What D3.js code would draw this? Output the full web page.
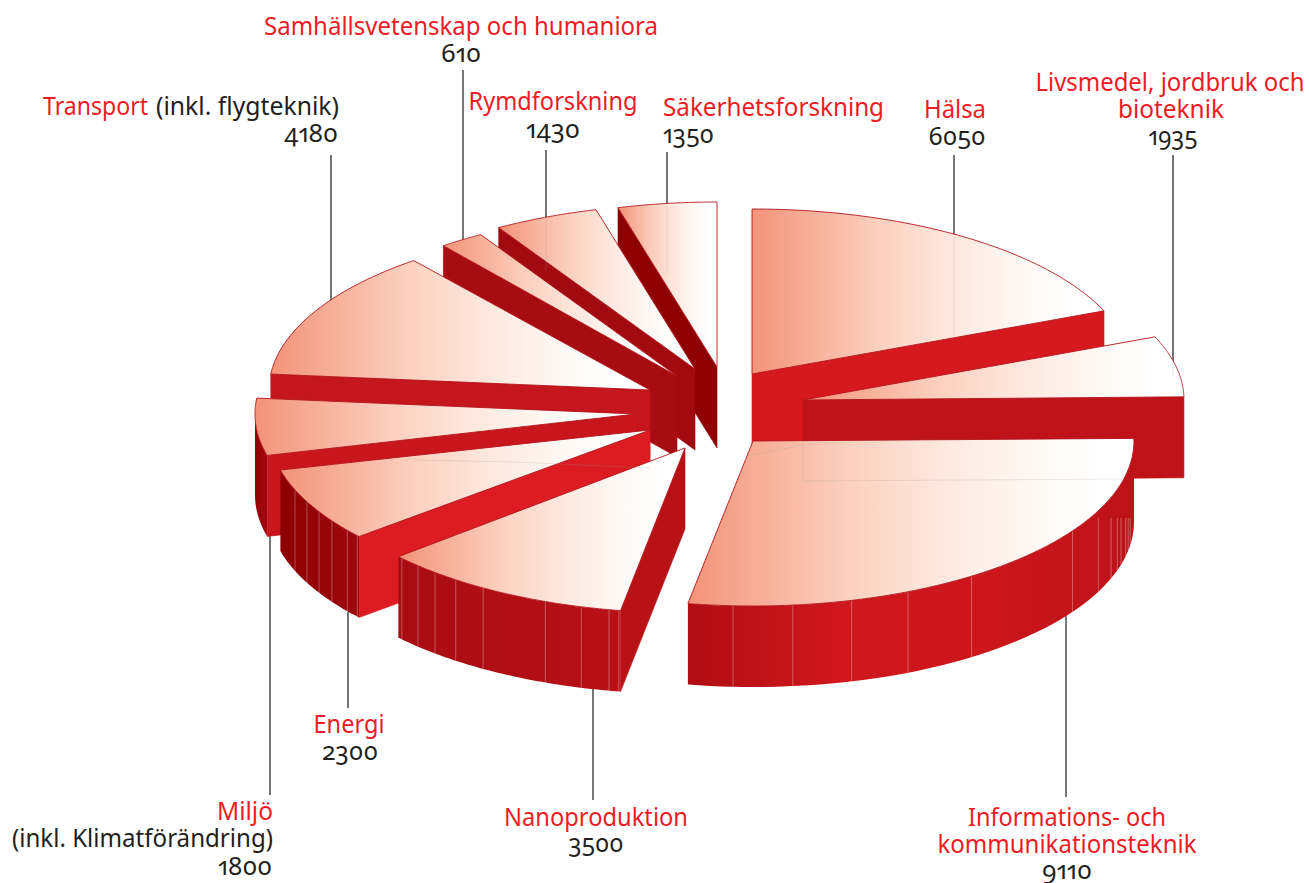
<!DOCTYPE html>
<html><head><meta charset="utf-8">
<script src="https://cdn.jsdelivr.net/npm/d3@7/dist/d3.min.js"></script>
<style>
html,body{margin:0;padding:0;background:#fff}
svg{display:block}
text{font-family:"Noto Sans",sans-serif;font-size:24.5px;font-feature-settings:"onum" 1,"pnum" 1;font-variant-numeric:oldstyle-nums}
</style></head><body>
<svg id="c" width="1309" height="883"></svg>
<script>
// ---- data ----
const categories = ["Hälsa","Livsmedel, jordbruk och bioteknik","Informations- och kommunikationsteknik","Nanoproduktion","Energi","Miljö (inkl. Klimatförändring)","Transport (inkl. flygteknik)","Samhällsvetenskap och humaniora","Rymdforskning","Säkerhetsforskning"];
const values = [6050,1935,9110,3500,2300,1800,4180,610,1430,1350];

// ---- layout (not data) ----
const centers = [[752,374],[803,400],[753,441],[685,448],[650,430],[636,414],[650,390],[677,376],[695,369],[717,367]];
const angleTrim = [[0,0],[0,-.2],[0,-.9],[-1,-1],[0,.5],[0,0],[0,-.5],[0,0],[0,0],[0,0]];
const RX=381, RY=165, DEPTH=81;
const topStroke = "#b3141c";
// wall that faces the viewer: +1 end edge, -1 start edge
const cutEdge = [1,1,0,-1,-1,-1,-1,-1,-1,-1];
const cutColor = ["#d5191f","#bf1319","#c5141a","#b81116","#dc1b22","#c9161c","#c4161c","#a60c12","#a00a10","#8f0005"];
const wallColors = {2:["#b00d12","#cf171d","#cc161c","#bd1218"],3:["#a80c12","#b81116"],4:["#8c0004","#9d080d"],5:["#8f0005","#a50a10"]};
const facets = {
  2:[183,174,165,156,145,123,115,110,107,105,102,100,98],
  3:[228,224.5,221,217,212,201.5,195.8,191.5,190],
  4:[248.7,244.2,240.3,236.6,232.6,230.2]
};
const facetFloor = {2:518};
const drawOrder = [9,8,7,6,5,4,3,0,1,2];
const labels = [
 {x:461,y:35,w:394,a:"middle",c:"r",t:"Samhällsvetenskap och humaniora"},
 {x:461,y:62,w:40,a:"middle",c:"k",t:"610"},
 {x:43,y:115,w:105,a:"start",c:"r",t:"Transport"},
 {x:156,y:115,w:183,a:"start",c:"k",t:"(inkl. flygteknik)"},
 {x:338,y:142,w:54,a:"end",c:"k",t:"4180"},
 {x:553,y:110,w:169,a:"middle",c:"r",t:"Rymdforskning"},
 {x:553,y:138,w:54,a:"middle",c:"k",t:"1430"},
 {x:663,y:116,w:221,a:"start",c:"r",t:"Säkerhetsforskning"},
 {x:663,y:143,w:51,a:"start",c:"k",t:"1350"},
 {x:955,y:118,w:62,a:"middle",c:"r",t:"Hälsa"},
 {x:957,y:145,w:57,a:"middle",c:"k",t:"6050"},
 {x:1170,y:91,w:269,a:"middle",c:"r",t:"Livsmedel, jordbruk och"},
 {x:1171,y:118,w:106,a:"middle",c:"r",t:"bioteknik"},
 {x:1173,y:145,w:49,a:"middle",c:"k",t:"1935"},
 {x:1067,y:826,w:198,a:"middle",c:"r",t:"Informations- och"},
 {x:1067,y:853,w:259,a:"middle",c:"r",t:"kommunikationsteknik"},
 {x:1067,y:879,w:50,a:"middle",c:"k",t:"9110"},
 {x:596,y:826,w:184,a:"middle",c:"r",t:"Nanoproduktion"},
 {x:596,y:852,w:55,a:"middle",c:"k",t:"3500"},
 {x:349,y:733,w:71,a:"middle",c:"r",t:"Energi"},
 {x:350,y:760,w:56,a:"middle",c:"k",t:"2300"},
 {x:273,y:820,w:56,a:"end",c:"r",t:"Miljö"},
 {x:273,y:847,w:261,a:"end",c:"k",t:"(inkl. Klimatförändring)"},
 {x:272,y:875,w:54,a:"end",c:"k",t:"1800"}
];
const leaders = [[331,155,300],[463,70,242],[546,150,218],[667,152,207],[954,155,236],[1173,155,368],[1066,612,797],[593,688,800],[348,612,708],[270,535,795]];

// ---- pie ----
const pie = d3.pie().sort(null).startAngle(0).endAngle(2*Math.PI).value(d=>d);
const rad = Math.PI/180;
const slices = pie(values).map((p,i)=>{
  const a0=p.startAngle/rad+angleTrim[i][0], a1=p.endAngle/rad+angleTrim[i][1];
  const sx=d3.scaleLinear().domain([-1,1]).range([centers[i][0]-RX,centers[i][0]+RX]);
  const sy=d3.scaleLinear().domain([-1,1]).range([centers[i][1]-RY,centers[i][1]+RY]);
  return {i,a0,a1,c:centers[i],rim:(d,dz=0)=>[sx(Math.sin(d*rad)),sy(-Math.cos(d*rad))+dz]};
});
const line=d3.line();
const samples=(a,b)=>d3.range(0,61).map(k=>a+(b-a)*k/60);

const svg=d3.select("#c"), defs=svg.append("defs");
const grad=(id,stops)=>{const g=defs.append("linearGradient").attr("id",id).attr("x1",0).attr("x2",1).attr("y1",0).attr("y2",0);
  stops.forEach((c,k)=>g.append("stop").attr("offset",Array.isArray(c)?c[0]:k/(stops.length-1)).attr("stop-color",Array.isArray(c)?c[1]:c));};
grad("top",[[0,"#f3937a"],[.1,"#f5a48c"],[.35,"#fbcfbd"],[.55,"#fde6dc"],[.75,"#fdf7f2"],[.92,"#ffffff"],[1,"#ffffff"]]);
Object.keys(wallColors).forEach(k=>grad("wall"+k,wallColors[k]));

// leaders
svg.append("g").selectAll("line").data(leaders).join("line")
  .attr("x1",d=>d[0]).attr("x2",d=>d[0]).attr("y1",d=>d[1]).attr("y2",d=>d[2])
  .attr("stroke","#666").attr("stroke-width",1.8);

// slices
const g=svg.append("g");
drawOrder.forEach(i=>{
  const s=slices[i], sg=g.append("g");
  // radial cut wall
  if(cutEdge[i]!==0){
    const e=s.rim(cutEdge[i]>0?s.a1:s.a0), e2=s.rim(cutEdge[i]>0?s.a1:s.a0,DEPTH);
    sg.append("path").attr("d",line([s.c,e,e2,[s.c[0],s.c[1]+DEPTH]])+"Z")
      .attr("fill",cutColor[i]).attr("stroke",cutColor[i]).attr("stroke-width",.6);
  }
  // outer wall
  const lo=Math.max(s.a0,90), hi=Math.min(s.a1,270);
  if(hi>lo){
    const t=samples(lo,hi);
    const pts=t.map(d=>s.rim(d)).concat(t.slice().reverse().map(d=>s.rim(d,DEPTH)));
    sg.append("path").attr("d",line(pts)+"Z").attr("fill",wallColors[i]?`url(#wall${i})`:cutColor[i]);
    sg.selectAll("line.f").data(facets[i]||[]).join("line").attr("class","f")
      .attr("x1",d=>s.rim(d)[0]).attr("x2",d=>s.rim(d)[0])
      .attr("y1",d=>Math.max(s.rim(d)[1],facetFloor[i]||0)).attr("y2",d=>s.rim(d,DEPTH)[1])
      .attr("stroke","#fff").attr("stroke-opacity",.3).attr("stroke-width",1);
  }
  // top face
  const topPts=[s.c].concat(samples(s.a0,s.a1).map(d=>s.rim(d)));
  sg.append("path").attr("d",line(topPts)+"Z").attr("fill","url(#top)")
    .attr("stroke",topStroke).attr("stroke-width",.9).attr("stroke-linejoin","round");
});

// faint hidden edges that show through the top faces
const ghost=svg.append("g").attr("fill","none").attr("stroke","#999").attr("stroke-opacity",.22).attr("stroke-width",1);
const L=slices[1], H=slices[0];
ghost.append("path").attr("d",line([[L.c[0],441],[L.c[0],L.c[1]+DEPTH],[1125,479]]));
ghost.append("path").attr("d",line([[H.c[0],H.c[1]+DEPTH],[L.c[0],445]]));
ghost.selectAll("line").data([[954,236,337],[667,207,274],[546,218,272],[1173,368,376]]).join("line")
  .attr("x1",d=>d[0]).attr("x2",d=>d[0]).attr("y1",d=>d[1]).attr("y2",d=>d[2]);
ghost.append("path").attr("d",line([[413,460],[515,462],[650,468]]));

// labels
svg.append("g").selectAll("text").data(labels).join("text")
  .attr("x",d=>d.x).attr("y",d=>d.y).attr("text-anchor",d=>d.a)
  .attr("fill",d=>d.c==="r"?"#ed1c24":"#231f20")
  .attr("textLength",d=>d.w).attr("lengthAdjust","spacingAndGlyphs")
  .text(d=>d.t);
</script></body></html>
